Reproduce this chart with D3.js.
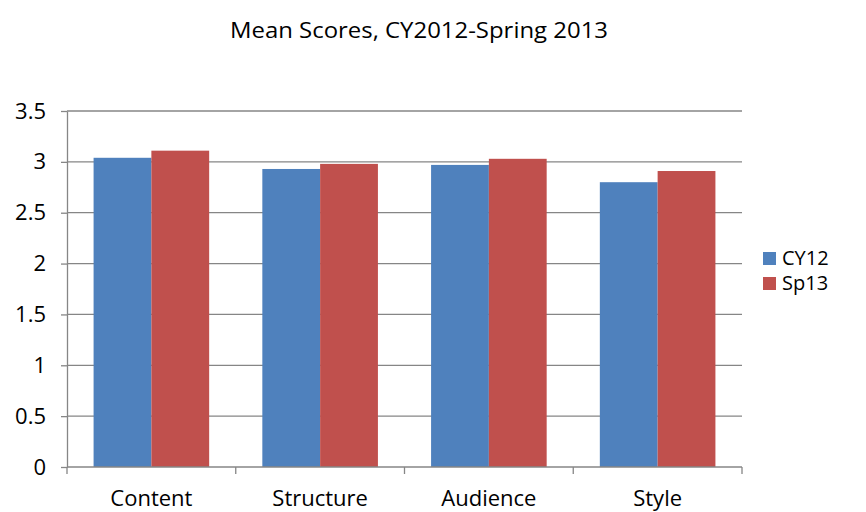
<!DOCTYPE html>
<html>
<head>
<meta charset="utf-8">
<script src="https://cdn.jsdelivr.net/npm/d3@7"></script>
<style>
  body { margin: 0; background: #fff; }
  text { font-family: "Open Sans", sans-serif; fill: #000; }
</style>
</head>
<body>
<div id="chart"></div>
<script>
// Dades
const categories = ["Content", "Structure", "Audience", "Style"];
const seriesNames = ["CY12", "Sp13"];
const cy12 = [3.04, 2.93, 2.97, 2.80];
const sp13 = [3.11, 2.98, 3.03, 2.91];
const yTicks = [0, 0.5, 1, 1.5, 2, 2.5, 3, 3.5];
const colors = ["#4F81BD", "#C0504D"];

const W = 866, H = 512;
const margin = { top: 111, right: 124, bottom: 45, left: 67 };
const width = W - margin.left - margin.right;
const height = H - margin.top - margin.bottom;
const fs = "22px";

const svg = d3.select("#chart").append("svg")
    .attr("width", W)
    .attr("height", H);

// Títol
svg.append("text")
    .attr("x", 419)
    .attr("y", 38)
    .attr("text-anchor", "middle")
    .attr("font-size", fs)
    .attr("textLength", 378)
    .attr("lengthAdjust", "spacingAndGlyphs")
    .text("Mean Scores, CY2012-Spring 2013");

const g = svg.append("g")
    .attr("transform", `translate(${margin.left},${margin.top})`);

const x = d3.scaleBand()
    .domain(categories)
    .range([0, width])
    .paddingInner(0)
    .paddingOuter(0);

const x1 = d3.scaleBand()
    .domain(seriesNames)
    .range([0, x.bandwidth()])
    .paddingOuter(0.46)
    .paddingInner(0);

const y = d3.scaleLinear()
    .domain([0, 3.5])
    .range([height, 0]);

// Línies de graella
g.selectAll(".grid")
    .data(yTicks.filter(d => d > 0))
    .enter()
    .append("line")
    .attr("x1", 0)
    .attr("x2", width)
    .attr("y1", d => y(d))
    .attr("y2", d => y(d))
    .attr("stroke", "#868686")
    .attr("stroke-width", 1.3);

// Barres
const table = categories.map((c, i) => ({ cat: c, values: [cy12[i], sp13[i]] }));
g.selectAll(".grp")
    .data(table)
    .enter()
    .append("g")
    .attr("transform", d => `translate(${x(d.cat)},0)`)
    .selectAll("rect")
    .data(d => d.values.map((v, j) => ({ name: seriesNames[j], v: v, j: j })))
    .enter()
    .append("rect")
    .attr("x", d => x1(d.name))
    .attr("y", d => y(d.v))
    .attr("width", x1.bandwidth())
    .attr("height", d => height - y(d.v))
    .attr("fill", d => colors[d.j]);

// Eix Y
const yAxis = g.append("g")
    .call(d3.axisLeft(y).tickValues(yTicks).tickSize(6).tickSizeOuter(0).tickFormat(d => d));
yAxis.select(".domain").attr("stroke", "#868686").attr("stroke-width", 1.3);
yAxis.selectAll(".tick line").attr("stroke", "#868686").attr("stroke-width", 1.3);
yAxis.selectAll(".tick text")
    .attr("x", -21)
    .attr("font-size", fs)
    .attr("font-family", "Open Sans, sans-serif")
    .attr("fill", "#000");

// Eix X
const xAxis = g.append("g")
    .attr("transform", `translate(0,${height})`);
xAxis.append("line")
    .attr("x1", 0).attr("x2", width)
    .attr("stroke", "#868686").attr("stroke-width", 1.3);
xAxis.selectAll(".xt")
    .data(categories.map(c => x(c)).concat([width]))
    .enter()
    .append("line")
    .attr("x1", d => d).attr("x2", d => d)
    .attr("y1", 0).attr("y2", 7)
    .attr("stroke", "#868686").attr("stroke-width", 1.3);
xAxis.selectAll(".xl")
    .data(categories)
    .enter()
    .append("text")
    .attr("x", d => x(d) + x.bandwidth() / 2)
    .attr("y", 39)
    .attr("text-anchor", "middle")
    .attr("font-size", fs)
    .text(d => d);

// Llegenda
const legend = svg.append("g").attr("transform", "translate(763,252)");
seriesNames.forEach((s, i) => {
    legend.append("rect")
        .attr("x", 0)
        .attr("y", i * 25)
        .attr("width", 13)
        .attr("height", 13)
        .attr("fill", colors[i]);
    legend.append("text")
        .attr("x", 19)
        .attr("y", i * 25 + 13)
        .attr("font-size", "20px")
        .text(s);
});
</script>
</body>
</html>
